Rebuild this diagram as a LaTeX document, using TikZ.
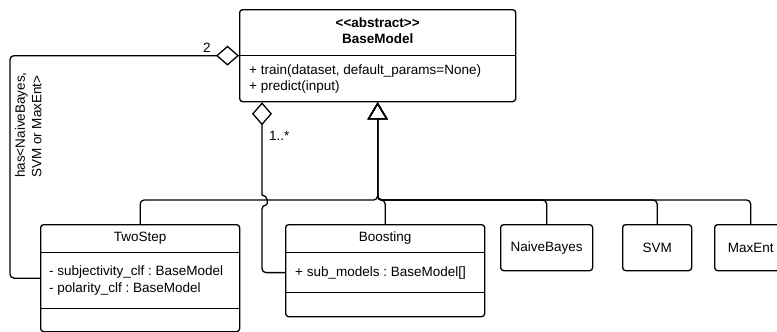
\documentclass[tikz,border=0pt]{standalone}
\usepackage{fontspec}
\setmainfont{Liberation Sans}
\usetikzlibrary{arrows.meta, calc, positioning}
\frenchspacing
\tikzset{
  % class box style
  classbox/.style={
    draw
    , line width=1.3pt
    , rounded corners=3pt
    , anchor=north west
    , inner sep=0pt
  },
  % compartment with the class name
  titlepart/.style={
    inner sep=0pt
    , minimum height=28pt
    , align=center
  },
  % attributes / operations
  member/.style={
    inner sep=0pt
    , align=left
  },
  % Graph arrow style
  garr/.style={
    line width = 1.3pt
    , rounded corners=4pt
  },
  sep/.style={
    line width=1.3pt
  },
}
\begin{document}
\begin{tikzpicture}[x=1pt, y=-1pt, font=\fontsize{13.5}{16.5}\selectfont]
  \useasboundingbox (0,0) rectangle (777,332);

  % abstract base class
  \node[classbox, minimum width=276pt, minimum height=92pt] (base) at (239,9) {};
  \node[titlepart, minimum height=43pt, below=0pt of base.north] (basetitle)
    {\textbf{<\kern0pt<abstract>\kern0pt>}\\[-1pt]\textbf{BaseModel}};
  \draw[sep] (base.west) -- (base.east);
  \node[member, minimum height=46pt, below right=0pt and 10pt of base.west] (basemeth)
    {+ train(dataset, default\_params=None)\\+ predict(input)};

  % TwoStep
  \node[classbox, minimum width=199pt, minimum height=107pt] (twostep) at (40,224) {};
  \node[titlepart, below=0pt of twostep.north] (twotitle) {TwoStep};
  \draw[sep] (twostep.west |- twotitle.south) -- (twostep.east |- twotitle.south);
  \node[member, minimum height=56pt, anchor=north west] (twoattr)
    at ($(twostep.west |- twotitle.south)+(9,0)$)
    {- subjectivity\_clf : BaseModel\\- polarity\_clf : BaseModel};
  \draw[sep] (twostep.west |- twoattr.south) -- (twostep.east |- twoattr.south);

  % Boosting
  \node[classbox, minimum width=199pt, minimum height=92pt] (boosting) at (285,224) {};
  \node[titlepart, below=0pt of boosting.north] (boosttitle) {Boosting};
  \draw[sep] (boosting.west |- boosttitle.south) -- (boosting.east |- boosttitle.south);
  \node[member, minimum height=40pt, anchor=north west] (subattr)
    at ($(boosting.west |- boosttitle.south)+(10,0)$)
    {+ sub\_models : BaseModel[]};
  \draw[sep] (boosting.west |- subattr.south) -- (boosting.east |- subattr.south);

  % simple classifiers
  \node[classbox, minimum width=92pt, minimum height=46pt] (naive) at (500,224) {NaiveBayes};
  \node[classbox, minimum width=69pt, minimum height=46pt] (svm) at (622,224) {SVM};
  \node[classbox, minimum width=72pt, minimum height=46pt] (maxent) at (714,224) {MaxEnt};

  \coordinate (bus) at (0,200);
  \coordinate (aggtop) at ($(base.south west)+(23,0)$);

  % generalization
  \draw[garr, -{Triangle[open, length=17pt, width=20pt]}]
    (twostep.north) -- (twostep.north |- bus) -- (base.south |- bus) -- (base.south);
  \draw[garr, -{Triangle[open, length=17pt, width=20pt]}]
    (boosting.north) -- (boosting.north |- bus) -- (base.south |- bus) -- (base.south);
  \draw[garr, -{Triangle[open, length=17pt, width=20pt]}]
    (naive.north) -- (naive.north |- bus) -- (base.south |- bus) -- (base.south);
  \draw[garr, -{Triangle[open, length=17pt, width=20pt]}]
    (svm.north) -- (svm.north |- bus) -- (base.south |- bus) -- (base.south);
  \draw[garr, -{Triangle[open, length=17pt, width=20pt]}]
    (maxent.north) -- (maxent.north |- bus) -- (base.south |- bus) -- (base.south);

  % aggregations
  \draw[garr, -{Diamond[open, length=23pt, width=20pt]}]
    (twostep.west) -- ++(-30,0) |- (base.west);
  \node[inner sep=0pt] (two) at (207,48) {2};
  \node[member, rotate=90, anchor=north west] (haslabel) at (15,178)
    {has<NaiveBayes,\\SVM or MaxEnt>};

  \draw[garr, -{Diamond[open, length=23pt, width=20pt]}]
    (boosting.west |- subattr) -- (aggtop |- subattr)
    -- ($(aggtop |- bus)+(0,5)$) [sharp corners]
    to[out=0, in=0, looseness=1.6] ($(aggtop |- bus)+(0,-5)$)
    -- (aggtop);
  \node[inner sep=0pt, anchor=west] (many) at (269,136) {1..*};
\end{tikzpicture}
\end{document}
